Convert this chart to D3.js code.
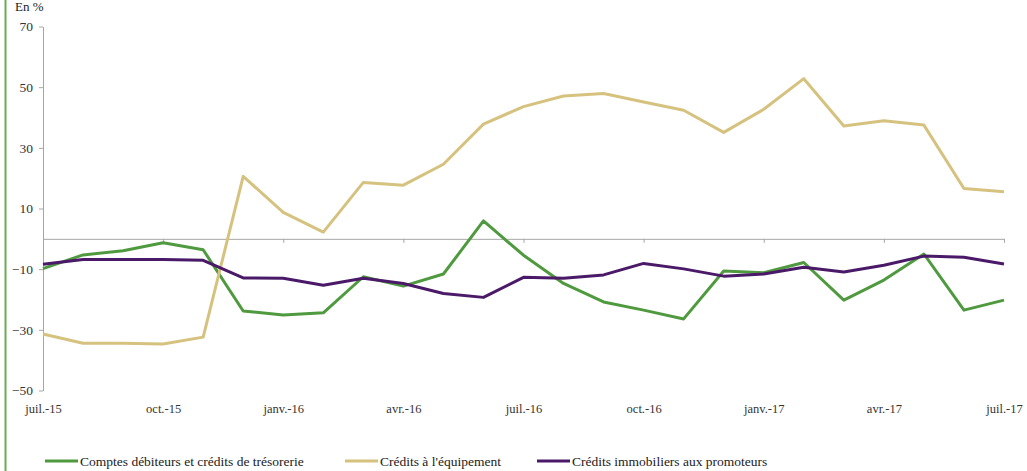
<!DOCTYPE html>
<html>
<head>
<meta charset="utf-8">
<script src="https://cdn.jsdelivr.net/npm/d3@7"></script>
<style>
  body { margin: 0; background: #fff; }
  svg { display: block; font-family: 'Liberation Serif', 'DejaVu Serif', serif; }
</style>
</head>
<body>
<svg id="chart" width="1027" height="471"></svg>
<script>
// monthly values, juil.-15 .. juil.-17
const months = d3.range(25)
const tickMonths = [0, 3, 6, 9, 12, 15, 18, 21, 24]
const tickLabels = ['juil.-15', 'oct.-15', 'janv.-16', 'avr.-16', 'juil.-16', 'oct.-16', 'janv.-17', 'avr.-17', 'juil.-17']
const comptes = [-9.8, -5.3, -3.9, -1.3, -3.6, -23.8, -25.1, -24.4, -12.5, -15.6, -11.6, 5.9, -5.4, -14.7, -20.8, -23.5, -26.4, -10.6, -11.2, -7.8, -20.2, -13.6, -5.0, -23.5, -20.2]
const equipement = [-31.4, -34.4, -34.4, -34.7, -32.4, 20.6, 8.7, 2.2, 18.6, 17.7, 24.6, 37.8, 43.6, 47.1, 47.9, 45.1, 42.4, 35.1, 42.7, 52.8, 37.2, 38.9, 37.5, 16.6, 15.5]
const promoteurs = [-8.4, -6.8, -6.8, -6.8, -7.1, -12.9, -13.0, -15.3, -13.0, -14.7, -18.0, -19.3, -12.7, -13.0, -11.9, -8.1, -9.9, -12.3, -11.6, -9.4, -10.9, -8.7, -5.7, -6.1, -8.3]
const yTicks = [-50, -30, -10, 10, 30, 50, 70]

const series = [
  { name: 'Comptes débiteurs et crédits de trésorerie', values: comptes, color: '#4f9a3f' },
  { name: "Crédits à l'équipement", values: equipement, color: '#d6c27f' },
  { name: 'Crédits immobiliers aux promoteurs', values: promoteurs, color: '#4a1a68' }
]

const svg = d3.select('#chart')
const x = d3.scaleLinear().domain([0, 24]).range([43, 1004])
const y = d3.scaleLinear().domain([-50, 70]).range([390.5, 26.5])
const axisColor = '#a6a6a6'

// left green rule
svg.append('line')
  .attr('x1', 5.5).attr('x2', 5.5)
  .attr('y1', 0).attr('y2', 471)
  .attr('stroke', '#6aac55')
  .attr('stroke-width', 2)

svg.append('text')
  .attr('x', 15).attr('y', 11)
  .attr('font-size', 13)
  .attr('fill', '#222')
  .text('En %')

// y axis
const yAxis = svg.append('g')
  .attr('transform', `translate(${x(0)},0)`)
  .call(d3.axisLeft(y).tickValues(yTicks).tickSize(4).tickSizeOuter(0).tickPadding(6))
yAxis.select('.domain').attr('stroke', axisColor)
yAxis.selectAll('.tick line').attr('stroke', axisColor)
yAxis.selectAll('.tick text')
  .attr('font-family', 'Liberation Serif, serif')
  .attr('font-size', 13.5)
  .attr('fill', '#333')

// zero line with quarterly ticks
const zeroAxis = svg.append('g')
  .attr('transform', `translate(0,${y(0)})`)
  .call(d3.axisBottom(x).tickValues(tickMonths).tickSize(4).tickSizeOuter(0).tickFormat(''))
zeroAxis.select('.domain').attr('stroke', axisColor)
zeroAxis.selectAll('.tick line').attr('stroke', axisColor)

// month labels at the bottom
const xLab = svg.append('g')
  .attr('transform', `translate(0,${y(-50)})`)
  .call(d3.axisBottom(x).tickValues(tickMonths).tickSize(0).tickPadding(14).tickFormat((d, i) => tickLabels[i]))
xLab.select('.domain').remove()
xLab.selectAll('.tick text')
  .attr('font-family', 'Liberation Serif, serif')
  .attr('font-size', 12.5)
  .attr('fill', '#333')

// lines
const line = d3.line()
  .x((d, i) => x(months[i]))
  .y(d => y(d))

svg.selectAll('.series')
  .data(series)
  .enter()
  .append('path')
  .attr('class', 'series')
  .attr('fill', 'none')
  .attr('stroke', d => d.color)
  .attr('stroke-width', 3)
  .attr('stroke-linejoin', 'round')
  .attr('d', d => line(d.values))

// legend
const legendX = [45, 345, 537]
const legend = svg.selectAll('.legend')
  .data(series)
  .enter()
  .append('g')
  .attr('class', 'legend')
  .attr('transform', (d, i) => `translate(${legendX[i]},461)`)
legend.append('line')
  .attr('x1', 0).attr('x2', 33)
  .attr('y1', 0).attr('y2', 0)
  .attr('stroke', d => d.color)
  .attr('stroke-width', 3)
legend.append('text')
  .attr('x', 35).attr('y', 4.5)
  .attr('font-size', 13.5)
  .attr('fill', '#222')
  .text(d => d.name)
</script>
</body>
</html>
